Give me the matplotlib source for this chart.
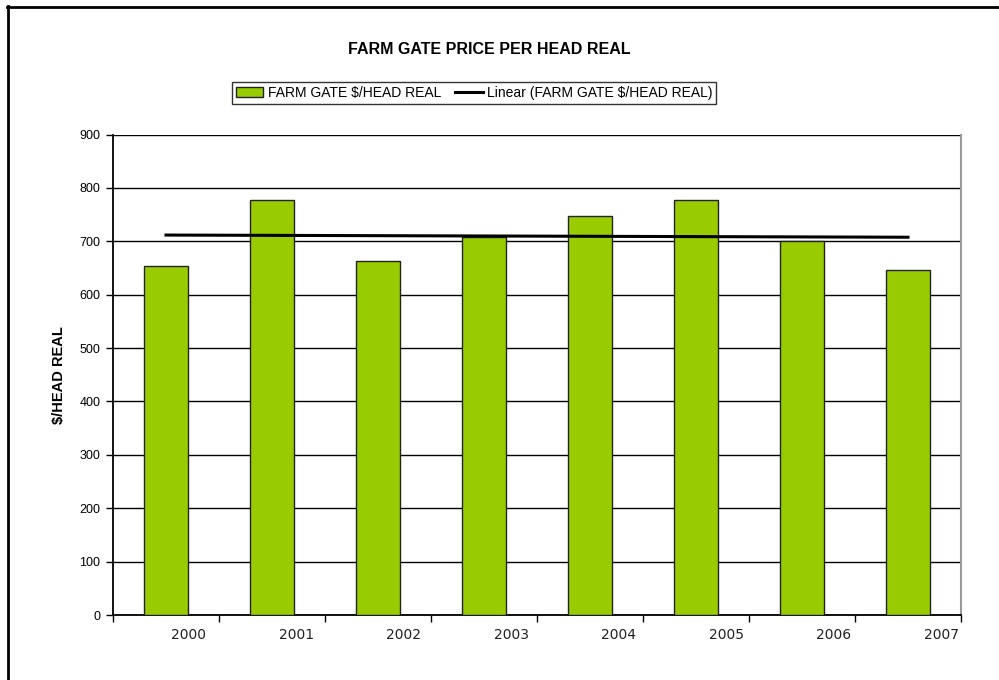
# -*- coding: utf-8 -*-
import numpy as np
import matplotlib
matplotlib.use("Agg")
import matplotlib.pyplot as plt
import matplotlib.transforms as mtransforms
from matplotlib.lines import Line2D

plt.rcParams['font.family'] = ['Liberation Sans', 'DejaVu Sans']

# Datos
anios = ['2000', '2001', '2002', '2003', '2004', '2005', '2006', '2007']
precio_real = [654, 778, 663, 708, 748, 778, 701, 647]
y_ticks = [0, 100, 200, 300, 400, 500, 600, 700, 800, 900]

verde = '#99cc00'

fig = plt.figure(figsize=(9.99, 6.80), dpi=100)
ax = fig.add_axes([113 / 999, 1 - 615 / 680, (961 - 113) / 999, (615 - 134.5) / 680])

x = np.arange(len(anios))
barras = ax.bar(x, precio_real, width=0.41, color=verde, edgecolor='#222222', linewidth=1.0,
                label='FARM GATE $/HEAD REAL', zorder=3)

# Tendencia lineal
pend, orig = np.polyfit(x, precio_real, 1)
linea, = ax.plot(x, pend * x + orig, color='black', linewidth=2.2,
                 label='Linear (FARM GATE $/HEAD REAL)', zorder=4)

ax.set_xlim(-0.5, len(anios) - 0.5)
ax.set_ylim(0, 900)
ax.set_yticks(y_ticks)
ax.yaxis.grid(True, color='black', linewidth=1.0, zorder=0)
ax.set_axisbelow(True)

# Marcas del eje x en los límites de categoría
ax.set_xticks(np.arange(-0.5, len(anios) + 0.5, 1.0))
ax.set_xticklabels([])
ax.tick_params(axis='x', length=5, width=1, direction='out')
ax.tick_params(axis='y', length=5, width=1, direction='out', labelsize=9, pad=4)
mezcla = mtransforms.blended_transform_factory(ax.transData, ax.transAxes)
for i, a in enumerate(anios):
    desp = mtransforms.ScaledTranslation((23 + 1.45 * i) / 100, 0, fig.dpi_scale_trans)
    ax.text(i, -0.028, a, transform=mezcla + desp,
            ha='center', va='top', fontsize=10, family='DejaVu Sans', color='#222222')

for lado in ['left', 'bottom']:
    ax.spines[lado].set_linewidth(1.3)
    ax.spines[lado].set_color('black')
ax.spines['top'].set_visible(False)
ax.spines['right'].set_color('#999999')
ax.spines['right'].set_linewidth(1.5)

ax.set_ylabel('$/HEAD REAL', fontsize=10.5, fontweight='bold')
ax.yaxis.set_label_coords(-0.056, 0.5)

fig.text(489 / 999, 1 - 50 / 680, 'FARM GATE PRICE PER HEAD REAL', ha='center', va='center',
         fontsize=11.5, fontweight='bold')

leg = fig.legend([barras, linea], [barras.get_label(), linea.get_label()],
                 loc='center', bbox_to_anchor=(474 / 999, 1 - 93 / 680), ncol=2, fontsize=10,
                 frameon=True, fancybox=False, edgecolor='black', handlelength=2.0,
                 handleheight=0.8, columnspacing=1.0, handletextpad=0.3, borderpad=0.3)
leg.get_frame().set_linewidth(1.0)

# Marco exterior (solo arriba e izquierda visibles)
fig.add_artist(Line2D([7 / 999, 1.0], [1 - 7 / 680, 1 - 7 / 680], color='black', linewidth=2))
fig.add_artist(Line2D([8 / 999, 8 / 999], [0, 1 - 6 / 680], color='black', linewidth=2))

fig.savefig('out.png', dpi=100)
